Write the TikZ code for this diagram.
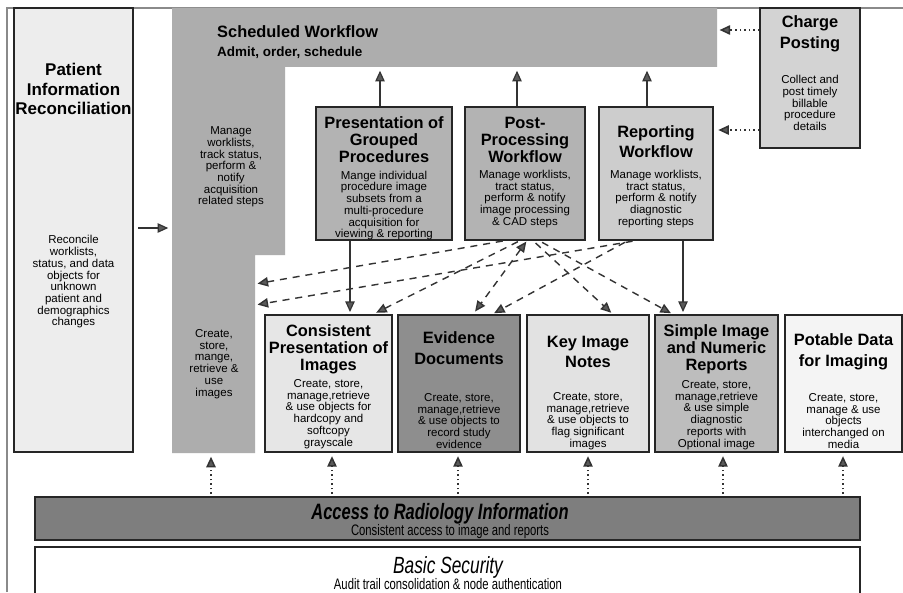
\documentclass[tikz,border=0pt]{standalone}
\usepackage{fontspec}
\setmainfont{Liberation Sans}
\newfontfamily\narrowsf[FakeStretch=0.74]{Liberation Sans}
\usetikzlibrary{arrows.meta,fit,positioning}

\definecolor{framegray}{HTML}{8A8A8A}
\definecolor{swfgray}{HTML}{ADADAD}
\definecolor{pircol}{HTML}{EDEDED}
\definecolor{midcol}{HTML}{B3B3B3}
\definecolor{rwfcol}{HTML}{CDCDCD}
\definecolor{cpcol}{HTML}{D3D3D3}
\definecolor{cpicol}{HTML}{E6E6E6}
\definecolor{edcol}{HTML}{8E8E8E}
\definecolor{kincol}{HTML}{E2E2E2}
\definecolor{sinrcol}{HTML}{BDBDBD}
\definecolor{pdicol}{HTML}{F4F4F4}
\definecolor{accgray}{HTML}{7E7E7E}
\definecolor{tipgray}{HTML}{5A5A5A}

\tikzset{
  box/.style={draw=black!85, line width=1.1pt, inner sep=0pt},
  area/.style={inner sep=0pt},
  ttl/.style={font=\bfseries\fontsize{14}{14.5}\selectfont, align=center, inner sep=0pt},
  bdy/.style={font=\fontsize{9.8}{10}\selectfont, align=center, inner sep=0pt},
  tip/.style={-{Triangle[width=8pt,length=9pt,fill=tipgray]}},
  solidarr/.style={tip, draw=black!80, line width=1pt},
  dasharr/.style={tip, draw=black!80, line width=1.2pt, dash pattern=on 6pt off 5pt},
  dotarr/.style={tip, draw=black!80, line width=1.3pt, dash pattern=on 1.3pt off 2.6pt},
}

\begin{document}
\begin{tikzpicture}[x=0.03cm,y=-0.03cm]
\clip (0,0) rectangle (903,592);
\fill[white] (0,0) rectangle (903,592);

% frame
\draw[framegray, line width=1.2pt] (7,592) -- (7,8) -- (903,8);

% scheduled workflow
\fill[swfgray] (172,8) -- (717,8) -- (717,67) -- (285,67) -- (285,255)
  -- (255,255) -- (255,453) -- (172,453) -- cycle;
\node[area, fit={(172,8) (717,67)}] (swfTop) {};
\node[area, fit={(172,67) (285,255)}] (swfMid) {};
\node[area, fit={(172,255) (255,453)}] (swfCol) {};
\node[ttl, anchor=west] (swfT) at (217,32) {Scheduled Workflow};
\node[font=\bfseries\fontsize{11.5}{12}\selectfont, inner sep=0pt, anchor=west] (swfS) at (217,53) {Admit, order, schedule};
\node[bdy] (swfB1) at (231,167) {Manage\\worklists,\\track status,\\perform \&\\notify\\acquisition\\related steps};
\node[bdy] (swfB2) at (214,364) {Create,\\store,\\mange,\\retrieve \&\\use\\images};

% patient information reconciliation
\node[box, fill=pircol, fit={(14,8) (133,452)}] (pir) {};
\node[ttl, font=\bfseries\fontsize{14.5}{17}\selectfont] (pirT) at (73.5,89) {Patient\\Information\\Reconciliation};
\node[bdy] (pirB) at (73.5,282) {Reconcile\\worklists,\\status, and data\\objects for\\unknown\\patient and\\demographics\\changes};

% charge posting
\node[box, fill=cpcol, fit={(760,8) (860,148)}] (cp) {};
\node[ttl, font=\bfseries\fontsize{14}{18}\selectfont] (cpT) at (810,34) {Charge\\Posting};
\node[bdy] (cpB) at (810,103) {Collect and\\post timely\\billable\\procedure\\details};

% workflow profiles
\node[box, fill=midcol, fit={(316,107) (452,240)}] (pgp) {};
\node[ttl] (pgpT) at (384,140) {Presentation of\\Grouped\\Procedures};
\node[bdy] (pgpB) at (384,205.5) {Mange individual\\procedure image\\subsets from a\\multi-procedure\\acquisition for\\viewing \& reporting};

\node[box, fill=midcol, fit={(465,107) (585,240)}] (ppw) {};
\node[ttl] (ppwT) at (525,140) {Post-\\Processing\\Workflow};
\node[bdy] (ppwB) at (525,199) {Manage worklists,\\tract status,\\perform \& notify\\image processing\\\& CAD steps};

\node[box, fill=rwfcol, fit={(599,107) (713,240)}] (rwf) {};
\node[ttl, font=\bfseries\fontsize{14}{17}\selectfont] (rwfT) at (656,142) {Reporting\\Workflow};
\node[bdy] (rwfB) at (656,199) {Manage worklists,\\tract status,\\perform \& notify\\diagnostic\\reporting steps};

% content profiles
\node[box, fill=cpicol, fit={(265,315) (392,452)}] (cpi) {};
\node[ttl] (cpiT) at (328.5,349) {Consistent\\Presentation of\\Images};
\node[bdy] (cpiB) at (328.5,414) {Create, store,\\manage,retrieve\\\& use objects for\\hardcopy and\\softcopy\\grayscale};

\node[box, fill=edcol, fit={(398,315) (520,452)}] (ed) {};
\node[ttl, font=\bfseries\fontsize{14}{18.5}\selectfont] (edT) at (459,348) {Evidence\\Documents};
\node[bdy] (edB) at (459,421) {Create, store,\\manage,retrieve\\\& use objects to\\record study\\evidence};

\node[box, fill=kincol, fit={(527,315) (649,452)}] (kin) {};
\node[ttl, font=\bfseries\fontsize{14}{17.5}\selectfont] (kinT) at (588,352) {Key Image\\Notes};
\node[bdy] (kinB) at (588,421) {Create, store,\\manage,retrieve\\\& use objects to\\flag significant\\images};

\node[box, fill=sinrcol, fit={(655,315) (778,452)}] (sinr) {};
\node[ttl] (sinrT) at (716.5,349) {Simple Image\\and Numeric\\Reports};
\node[bdy] (sinrB) at (716.5,415) {Create, store,\\manage,retrieve\\\& use simple\\diagnostic\\reports with\\Optional image};

\node[box, fill=pdicol, fit={(785,315) (902,452)}] (pdi) {};
\node[ttl, font=\bfseries\fontsize{14}{17.5}\selectfont] (pdiT) at (843.5,352) {Potable Data\\for Imaging};
\node[bdy] (pdiB) at (843.5,421) {Create, store,\\manage \& use\\objects\\interchanged on\\media};

% infrastructure bars
\node[box, fill=accgray, fit={(35,497) (860,540)}] (acc) {};
\node[font=\narrowsf\bfseries\itshape\fontsize{19}{20}\selectfont, inner sep=0pt] (accT) at (440,514) {Access to Radiology Information};
\node[font=\narrowsf\fontsize{13}{14}\selectfont, inner sep=0pt] (accB) at (450,532) {Consistent access to image and reports};

\node[box, fill=white, fit={(35,547) (860,600)}] (sec) {};
\node[font=\narrowsf\itshape\fontsize{20}{21}\selectfont, inner sep=0pt] (secT) at (448,567) {Basic Security};
\node[font=\narrowsf\fontsize{13}{14}\selectfont, inner sep=0pt] (secB) at (448,584) {Audit trail consolidation \& node authentication};

% arrows up to scheduled workflow
\draw[solidarr, shorten >=3pt] (380,0 |- pgp.north) -- (380,0 |- swfTop.south);
\draw[solidarr, shorten >=3pt] (517,0 |- ppw.north) -- (517,0 |- swfTop.south);
\draw[solidarr, shorten >=3pt] (647,0 |- rwf.north) -- (647,0 |- swfTop.south);
\draw[solidarr, shorten <=4pt, shorten >=3pt] (pir.east |- 0,228) -- (swfMid.west |- 0,228);

% charge posting
\draw[dotarr, shorten >=2pt] (cp.west |- 0,30) -- (swfTop.east |- 0,30);
\draw[dotarr, shorten >=4pt] (cp.west |- 0,130) -- (rwf.east |- 0,130);

% solid down arrows
\draw[solidarr, shorten >=2pt] (350,0 |- pgp.south) -- (350,0 |- cpi.north);
\draw[solidarr, shorten >=2pt] (683,0 |- rwf.south) -- (683,0 |- sinr.north);

% dashed dependencies
\draw[dasharr, shorten <=2pt, shorten >=2pt] (505,0 |- ppw.south) -- (swfCol.east |- 0,284);
\draw[dasharr, shorten <=3pt, shorten >=2pt] (636,0 |- rwf.south) -- (swfCol.east |- 0,305);
\draw[dasharr, shorten <=2pt, shorten >=3pt] (520,0 |- ppw.south) -- (373,0 |- cpi.north);
\draw[dasharr, {Triangle[width=8pt,length=9pt,fill=tipgray]}-{Triangle[width=8pt,length=9pt,fill=tipgray]}, shorten <=1pt, shorten >=3pt] (527,0 |- ppw.south) -- (473,0 |- ed.north);
\draw[dasharr, shorten <=3pt, shorten >=2pt] (628,0 |- rwf.south) -- (492,0 |- ed.north);
\draw[dasharr, shorten <=3pt, shorten >=2pt] (533,0 |- ppw.south) -- (613,0 |- kin.north);
\draw[dasharr, shorten <=3pt, shorten >=2pt] (539,0 |- ppw.south) -- (673,0 |- sinr.north);

% dotted arrows from access bar
\draw[dotarr, shorten <=2pt, shorten >=3pt] (211,0 |- acc.north) -- (211,0 |- swfCol.south);
\draw[dotarr, shorten <=2pt, shorten >=3pt] (332,0 |- acc.north) -- (332,0 |- cpi.south);
\draw[dotarr, shorten <=2pt, shorten >=3pt] (458,0 |- acc.north) -- (458,0 |- ed.south);
\draw[dotarr, shorten <=2pt, shorten >=3pt] (588,0 |- acc.north) -- (588,0 |- kin.south);
\draw[dotarr, shorten <=2pt, shorten >=3pt] (723,0 |- acc.north) -- (723,0 |- sinr.south);
\draw[dotarr, shorten <=2pt, shorten >=3pt] (843,0 |- acc.north) -- (843,0 |- pdi.south);
\end{tikzpicture}
\end{document}
